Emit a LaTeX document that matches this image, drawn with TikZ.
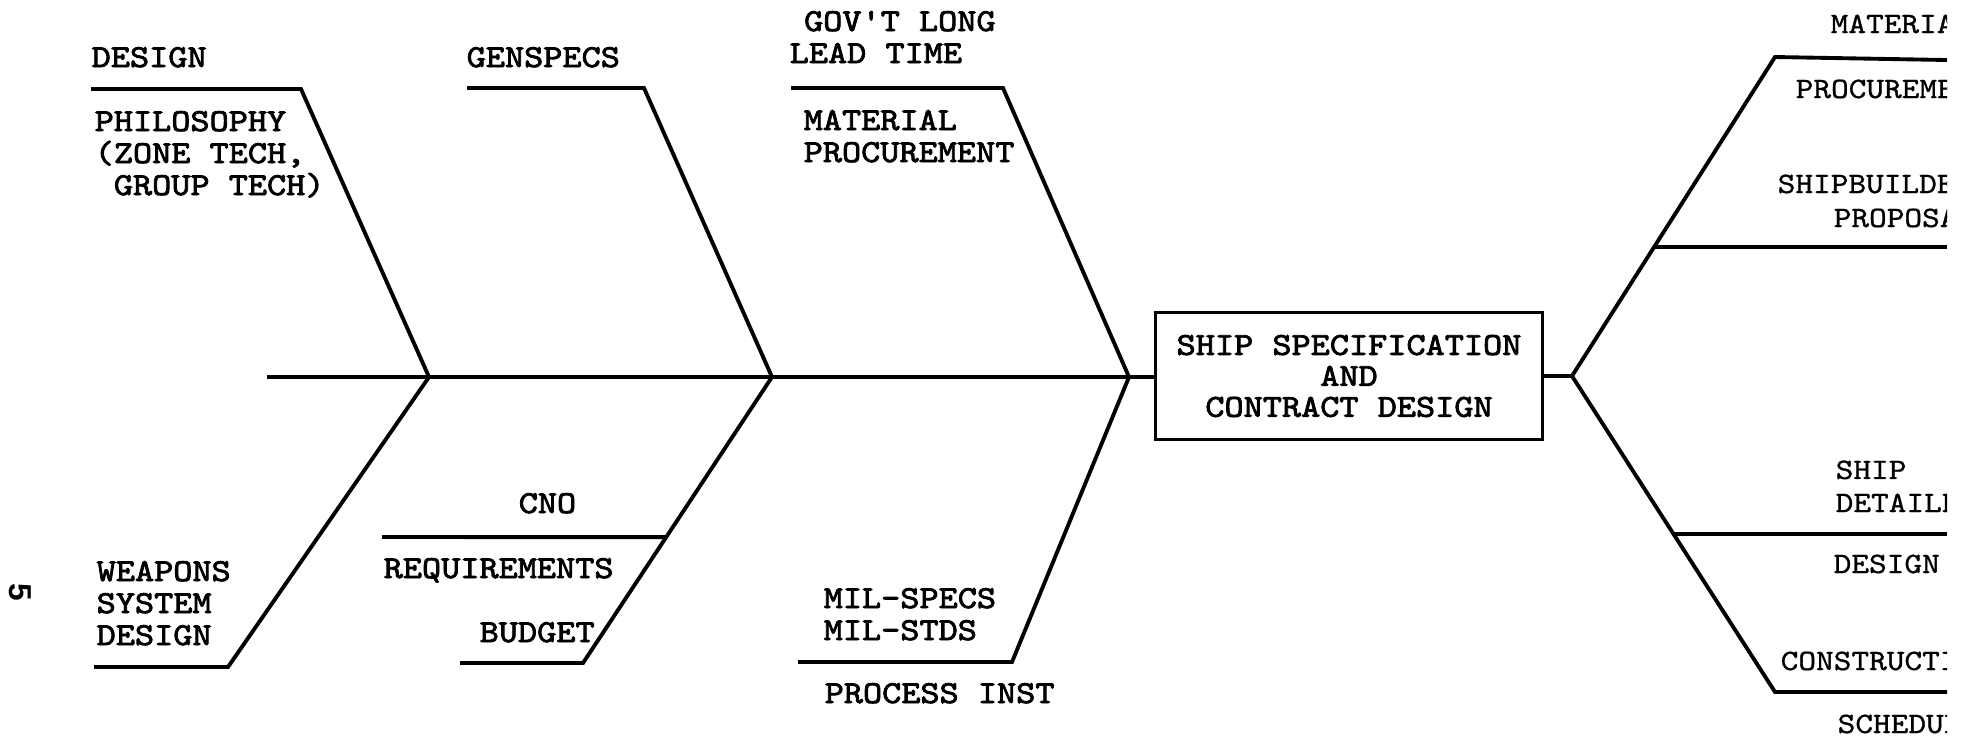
\documentclass[tikz,border=0pt]{standalone}
\usepackage{fontspec}
\setsansfont{Liberation Sans}
\newfontfamily\typeleft{lmmono10-regular.otf}[FakeStretch=1.14,FakeBold=2.5]
\newfontfamily\typeright{lmmono10-regular.otf}[FakeStretch=1.14,FakeBold=1]
\usepackage{tikz}
\usetikzlibrary{calc}

\tikzset{
	bone/.style={line width=1.1pt},
	lbl/.style={anchor=base west,inner sep=0pt,align=left,font=\typeleft\fontsize{9.1}{9.1}\selectfont},
	rlbl/.style={anchor=base west,inner sep=0pt,align=left,font=\typeright\fontsize{8.4}{9.4}\selectfont},
	specbox/.style={draw,line width=0.7pt,minimum width=3.87cm,minimum height=1.27cm,align=center,font=\typeleft\fontsize{9.1}{8.8}\selectfont}
}

\begin{document}
\begin{tikzpicture}[x=0.01cm,y=-0.01cm]
	\useasboundingbox (0,0) rectangle (1963,741);
	% spine
	\coordinate (s0) at (267,377);
	\coordinate (j1) at (429,377);
	\coordinate (j2) at (772,377);
	\coordinate (j3) at (1129,377);
	\coordinate (jr) at (1572,376);
	\node[specbox] (spec) at (1349,376) {SHIP SPECIFICATION\\AND\\CONTRACT DESIGN};
	\draw[bone] (s0) -- (j1) -- (j2) -- (j3) -- (j3 -| spec.west);
	\draw[bone] (spec.east |- jr) -- (jr);
	% upper bones
	\coordinate (u1a) at (91,89);
	\coordinate (u1b) at (301,89);
	\coordinate (u2a) at (467,88);
	\coordinate (u2b) at (644,88);
	\coordinate (u3a) at (791,88);
	\coordinate (u3b) at (1003,88);
	\draw[bone] (u1a) -- (u1b) -- (j1);
	\draw[bone] (u2a) -- (u2b) -- (j2);
	\draw[bone] (u3a) -- (u3b) -- (j3);
	% lower bones
	\coordinate (l1a) at (94,667);
	\coordinate (l1b) at (228,667);
	\coordinate (l2a) at (460,663);
	\coordinate (l2b) at (583,663);
	\coordinate (l3a) at (798,662);
	\coordinate (l3b) at (1012,662);
	\draw[bone] (j1) -- (l1b) -- (l1a);
	\draw[bone] (j2) -- (l2b) -- (l2a);
	\draw[bone] (j3) -- (l3b) -- (l3a);
	\coordinate (cno) at ($(j2)!0.56!(l2b)$);
	\coordinate (cnoa) at (382,537);
	\draw[bone] (cnoa) -- (cno);
	% labels (multi-line ones sit on their last line)
	\node[lbl] (design) at (91,67) {DESIGN};
	\node[lbl] (philo) at (94,195) {PHILOSOPHY\\(ZONE TECH,\\\hphantom{(}GROUP TECH)};
	\node[lbl] (genspecs) at (466,67) {GENSPECS};
	\node[lbl] (govt) at (789,63) {\hspace*{0.45em}GOV'T LONG\\LEAD TIME};
	\node[lbl] (matproc) at (803,162) {MATERIAL\\PROCUREMENT};
	\node[lbl] (weapons) at (96,645) {WEAPONS\\SYSTEM\\DESIGN};
	\node[lbl] (cnolbl) at (518,513) {CNO};
	\node[lbl] (req) at (383,578) {REQUIREMENTS};
	\node[lbl] (budget) at (479,642) {BUDGET};
	\node[lbl] (mil) at (823,640) {MIL-SPECS\\MIL-STDS};
	\node[lbl] (proc) at (824,703) {PROCESS INST};
	\node[font=\sffamily\bfseries\fontsize{9}{9}\selectfont,rotate=-90,inner sep=0pt] (page) at (20,592) {5};
	% right side, cut at the page edge
	\begin{scope}
		\clip (0,0) rectangle (1947,741);
		\coordinate (rend) at (1947,0);
		\coordinate (ru) at (1775,57);
		\coordinate (ru2) at (1947,60);
		\coordinate (rd) at (1775,692);
		\coordinate (rd2) at (1947,692);
		\draw[bone] (jr) -- (ru) -- (ru2);
		\draw[bone] (jr) -- (rd) -- (rd2);
		\coordinate (rb1) at ($(jr)!0.404!(ru)$);
		\coordinate (rb2) at ($(jr)!0.5!(rd)$);
		\draw[bone] (rb1) -- (rb1 -| rend);
		\draw[bone] (rb2) -- (rb2 -| rend);
		\node[rlbl] (mat) at (1830,33) {MATERIA};
		\node[rlbl] (procur) at (1795,98) {PROCUREME};
		\node[rlbl] (shipb) at (1777,193) {SHIPBUILDE};
		\node[rlbl] (propo) at (1833,227) {PROPOSA};
		\node[rlbl] (shipd) at (1835,512) {SHIP\\DETAILE};
		\node[rlbl] (rdesign) at (1833,573) {DESIGN};
		\node[rlbl] (constr) at (1780,670) {CONSTRUCTI};
		\node[rlbl] (sched) at (1837,733) {SCHEDUL};
	\end{scope}
\end{tikzpicture}
\end{document}
